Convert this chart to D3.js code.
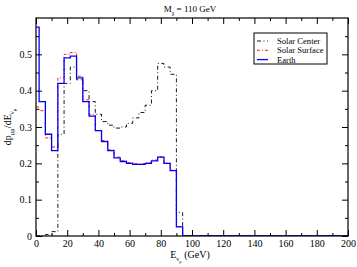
<!DOCTYPE html>
<html>
<head>
<meta charset="utf-8">
<script src="https://cdn.jsdelivr.net/npm/d3@7"></script>
<style>
  body { margin: 0; background: #fff; }
  text { font-family: "Liberation Serif", "DejaVu Serif", serif; }
</style>
</head>
<body>
<div id="chart"></div>
<script>
// bin edges (GeV) and histogram values
const edges = [0, 2, 6, 10, 14, 18, 22, 26, 30, 34, 38, 42, 46, 50, 54, 58, 62, 66, 70, 74, 78, 82, 86, 90, 94, 200];
const solarCenter = [0, 0.001, 0.004, 0.012, 0.28, 0.42, 0.465, 0.43, 0.40, 0.37, 0.335, 0.315, 0.305, 0.297, 0.30, 0.31, 0.325, 0.34, 0.36, 0.40, 0.475, 0.465, 0.445, 0.065, 0];
const solarSurface = [0.355, 0.345, 0.27, 0.245, 0.435, 0.50, 0.505, 0.44, 0.375, 0.335, 0.29, 0.263, 0.237, 0.217, 0.207, 0.202, 0.199, 0.199, 0.202, 0.209, 0.218, 0.201, 0.181, 0.026, 0];
const earth = [0.575, 0.37, 0.28, 0.235, 0.42, 0.49, 0.495, 0.435, 0.37, 0.33, 0.29, 0.26, 0.235, 0.215, 0.205, 0.20, 0.197, 0.197, 0.20, 0.207, 0.217, 0.20, 0.18, 0.025, 0];

const xTicks = [0, 20, 40, 60, 80, 100, 120, 140, 160, 180, 200];
const yTicks = [0, 0.1, 0.2, 0.3, 0.4, 0.5];

const series = [
  { name: 'Solar Center', values: solarCenter, color: '#000', dash: '4,2.5,1,2.5', width: 0.9 },
  { name: 'Solar Surface', values: solarSurface, color: '#ff0000', dash: '3,2,1,2', width: 0.9 },
  { name: 'Earth', values: earth, color: '#0000ff', dash: null, width: 1.3 }
];

const width = 357, height = 267;
const marginLeft = 36, marginRight = 9, marginTop = 18, marginBottom = 31;

const xScale = d3.scaleLinear([0, 200], [marginLeft, width - marginRight]);
const yScale = d3.scaleLinear([0, 0.6], [height - marginBottom, marginTop]);

const svg = d3.select('#chart').append('svg')
  .attr('width', width)
  .attr('height', height);

const plotW = width - marginLeft - marginRight;
const plotH = height - marginTop - marginBottom;

// histogram lines
const line = d3.line()
  .x(d => xScale(d[0]))
  .y(d => yScale(d[1]))
  .curve(d3.curveStepAfter);

svg.append('defs').append('clipPath').attr('id', 'clip')
  .append('rect')
  .attr('x', marginLeft).attr('y', marginTop)
  .attr('width', plotW).attr('height', plotH);

const gLines = svg.append('g').attr('clip-path', 'url(#clip)');
series.forEach(s => {
  const pts = s.values.map((v, i) => [edges[i], v]);
  pts.push([edges[edges.length - 1], s.values[s.values.length - 1]]);
  gLines.append('path')
    .attr('d', line(pts))
    .attr('fill', 'none')
    .attr('stroke', s.color)
    .attr('stroke-width', s.width)
    .attr('stroke-dasharray', s.dash);
});

// axes, ticks pointing inward on all sides
const xMinor = d3.range(10, 200, 20);
const yMinor = [0.05, 0.15, 0.25, 0.35, 0.45, 0.55];
const xAxisB = d3.axisBottom(xScale).tickValues(xTicks).tickSize(-6).tickPadding(4).tickFormat(d3.format('d'));
const xAxisBMinor = d3.axisBottom(xScale).tickValues(xMinor).tickSize(-3).tickFormat('');
const xAxisT = d3.axisTop(xScale).tickValues(xTicks).tickSize(-6).tickFormat('');
const xAxisTMinor = d3.axisTop(xScale).tickValues(xMinor).tickSize(-3).tickFormat('');
const yAxisL = d3.axisLeft(yScale).tickValues(yTicks).tickSize(-6).tickPadding(4).tickFormat(d => d === 0 ? '0' : d3.format('.1f')(d));
const yAxisLMinor = d3.axisLeft(yScale).tickValues(yMinor).tickSize(-3).tickFormat('');
const yAxisR = d3.axisRight(yScale).tickValues(yTicks).tickSize(-6).tickFormat('');
const yAxisRMinor = d3.axisRight(yScale).tickValues(yMinor).tickSize(-3).tickFormat('');

function style(g) {
  g.select('.domain').remove();
  g.selectAll('.tick line').attr('stroke', '#000');
  g.selectAll('.tick text').attr('font-size', 10).attr('fill', '#000')
    .style('font-family', '"Liberation Serif", serif');
}

svg.append('g').attr('transform', `translate(0,${height - marginBottom})`).call(xAxisB).call(style);
svg.append('g').attr('transform', `translate(0,${height - marginBottom})`).call(xAxisBMinor).call(style);
svg.append('g').attr('transform', `translate(0,${marginTop})`).call(xAxisT).call(style);
svg.append('g').attr('transform', `translate(0,${marginTop})`).call(xAxisTMinor).call(style);
svg.append('g').attr('transform', `translate(${marginLeft},0)`).call(yAxisL).call(style);
svg.append('g').attr('transform', `translate(${marginLeft},0)`).call(yAxisLMinor).call(style);
svg.append('g').attr('transform', `translate(${width - marginRight},0)`).call(yAxisR).call(style);
svg.append('g').attr('transform', `translate(${width - marginRight},0)`).call(yAxisRMinor).call(style);

// frame
svg.append('rect')
  .attr('x', marginLeft).attr('y', marginTop)
  .attr('width', plotW).attr('height', plotH)
  .attr('fill', 'none').attr('stroke', '#000').attr('stroke-width', 1.2);

// title
const title = svg.append('text')
  .attr('x', 190).attr('y', 12)
  .attr('text-anchor', 'middle')
  .attr('font-size', 9);
title.append('tspan').text('M');
title.append('tspan').attr('font-size', 6).attr('dy', 2.5).text('χ');
title.append('tspan').attr('dy', -2.5).text(' = 110 GeV');

// x label
const xl = svg.append('text')
  .attr('x', 190).attr('y', 258)
  .attr('text-anchor', 'middle')
  .attr('font-size', 10);
xl.append('tspan').text('E');
xl.append('tspan').attr('font-size', 6.5).attr('dy', 3).text('ν');
xl.append('tspan').attr('font-size', 4.5).attr('dy', 2).text('μ');
xl.append('tspan').attr('dy', -5).text(' (GeV)');

// y label
const yl = svg.append('text')
  .attr('transform', `translate(11,127) rotate(-90)`)
  .attr('text-anchor', 'middle')
  .attr('font-size', 10);
yl.append('tspan').text('dp');
yl.append('tspan').attr('font-size', 6.5).attr('dy', 3).text('μμ');
yl.append('tspan').attr('dy', -3).text('/dE');
yl.append('tspan').attr('font-size', 6.5).attr('dy', 3).text('ν');
yl.append('tspan').attr('font-size', 4.5).attr('dy', 2).text('μ');

// legend
const lx = 254, ly = 33, lw = 73, lh = 31;
svg.append('rect').attr('x', lx).attr('y', ly).attr('width', lw).attr('height', lh)
  .attr('fill', '#fff').attr('stroke', '#000').attr('stroke-width', 1);
series.forEach((s, i) => {
  const y = ly + 8 + i * 9.3;
  svg.append('line')
    .attr('x1', lx + 3).attr('x2', lx + 14)
    .attr('y1', y).attr('y2', y)
    .attr('stroke', s.color)
    .attr('stroke-width', s.width)
    .attr('stroke-dasharray', s.dash);
  svg.append('text')
    .attr('x', lx + 23).attr('y', y + 3)
    .attr('font-size', 8.6)
    .text(s.name);
});
</script>
</body>
</html>
